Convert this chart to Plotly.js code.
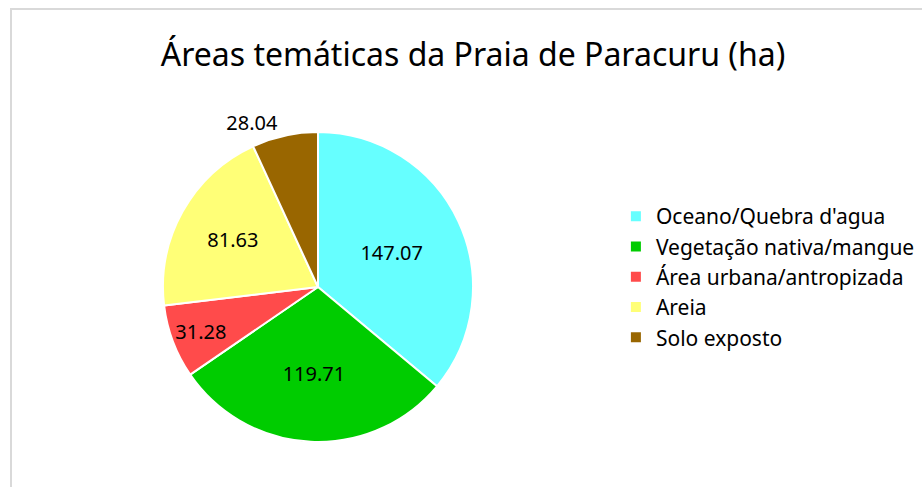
<!DOCTYPE html>
<html>
<head>
<meta charset="utf-8">
<script src="https://cdn.plot.ly/plotly-3.0.1.min.js"></script>
<style>
  html, body { margin: 0; padding: 0; background: #fff; }
  #wrap { position: relative; width: 922px; height: 487px; overflow: hidden; }
  #chart { position: absolute; left: 0; top: 0; width: 922px; height: 487px; }
  #frame { position: absolute; left: 10px; top: 8px; width: 1000px; height: 600px;
           border-left: 2px solid #d9d9d9; border-top: 2px solid #d9d9d9; pointer-events: none; }
</style>
</head>
<body>
<div id="wrap">
  <div id="chart"></div>
  <div id="frame"></div>
</div>
<script>
const categories = ["Oceano/Quebra d'agua", "Vegetação nativa/mangue", "Área urbana/antropizada", "Areia", "Solo exposto"];
const values = [147.07, 119.71, 31.28, 81.63, 28.04];
const colors = ["#66FFFF", "#00CC00", "#FF4B4B", "#FFFF77", "#996600"];
const labelPositions = ["inside", "inside", "inside", "inside", "outside"];
const chartTitle = "Áreas temáticas da Praia de Paracuru (ha)";

const W = 922, H = 487;
const cx = 318, cy = 287, R = 155;

const trace = {
  type: "pie",
  labels: categories,
  values: values,
  sort: false,
  direction: "clockwise",
  rotation: 0,
  marker: { colors: colors, line: { color: "#ffffff", width: 2 } },
  texttemplate: "%{value:.2f}",
  textposition: labelPositions,
  insidetextorientation: "horizontal",
  textfont: { family: "Noto Sans, sans-serif", size: 20, color: "#000000" },
  outsidetextfont: { family: "Noto Sans, sans-serif", size: 20, color: "#000000" },
  hoverinfo: "label+value",
  domain: {
    x: [(cx - R) / W, (cx + R) / W],
    y: [(H - cy - R) / H, (H - cy + R) / H]
  }
};

const layout = {
  width: W, height: H,
  margin: { l: 0, r: 0, t: 0, b: 0 },
  paper_bgcolor: "rgba(0,0,0,0)",
  plot_bgcolor: "rgba(0,0,0,0)",
  title: {
    text: chartTitle,
    x: 473 / W, xanchor: "center",
    y: 1 - 55 / H, yanchor: "middle",
    font: { family: "Noto Sans, sans-serif", size: 32, color: "#000000" }
  },
  showlegend: true,
  legend: {
    x: 0.668, xanchor: "left",
    y: 1 - 277 / H, yanchor: "middle",
    font: { family: "Noto Sans, sans-serif", size: 21, color: "#000000" },
    bgcolor: "rgba(0,0,0,0)"
  }
};

Plotly.newPlot("chart", [trace], layout, { displayModeBar: false, staticPlot: true });
</script>
</body>
</html>
